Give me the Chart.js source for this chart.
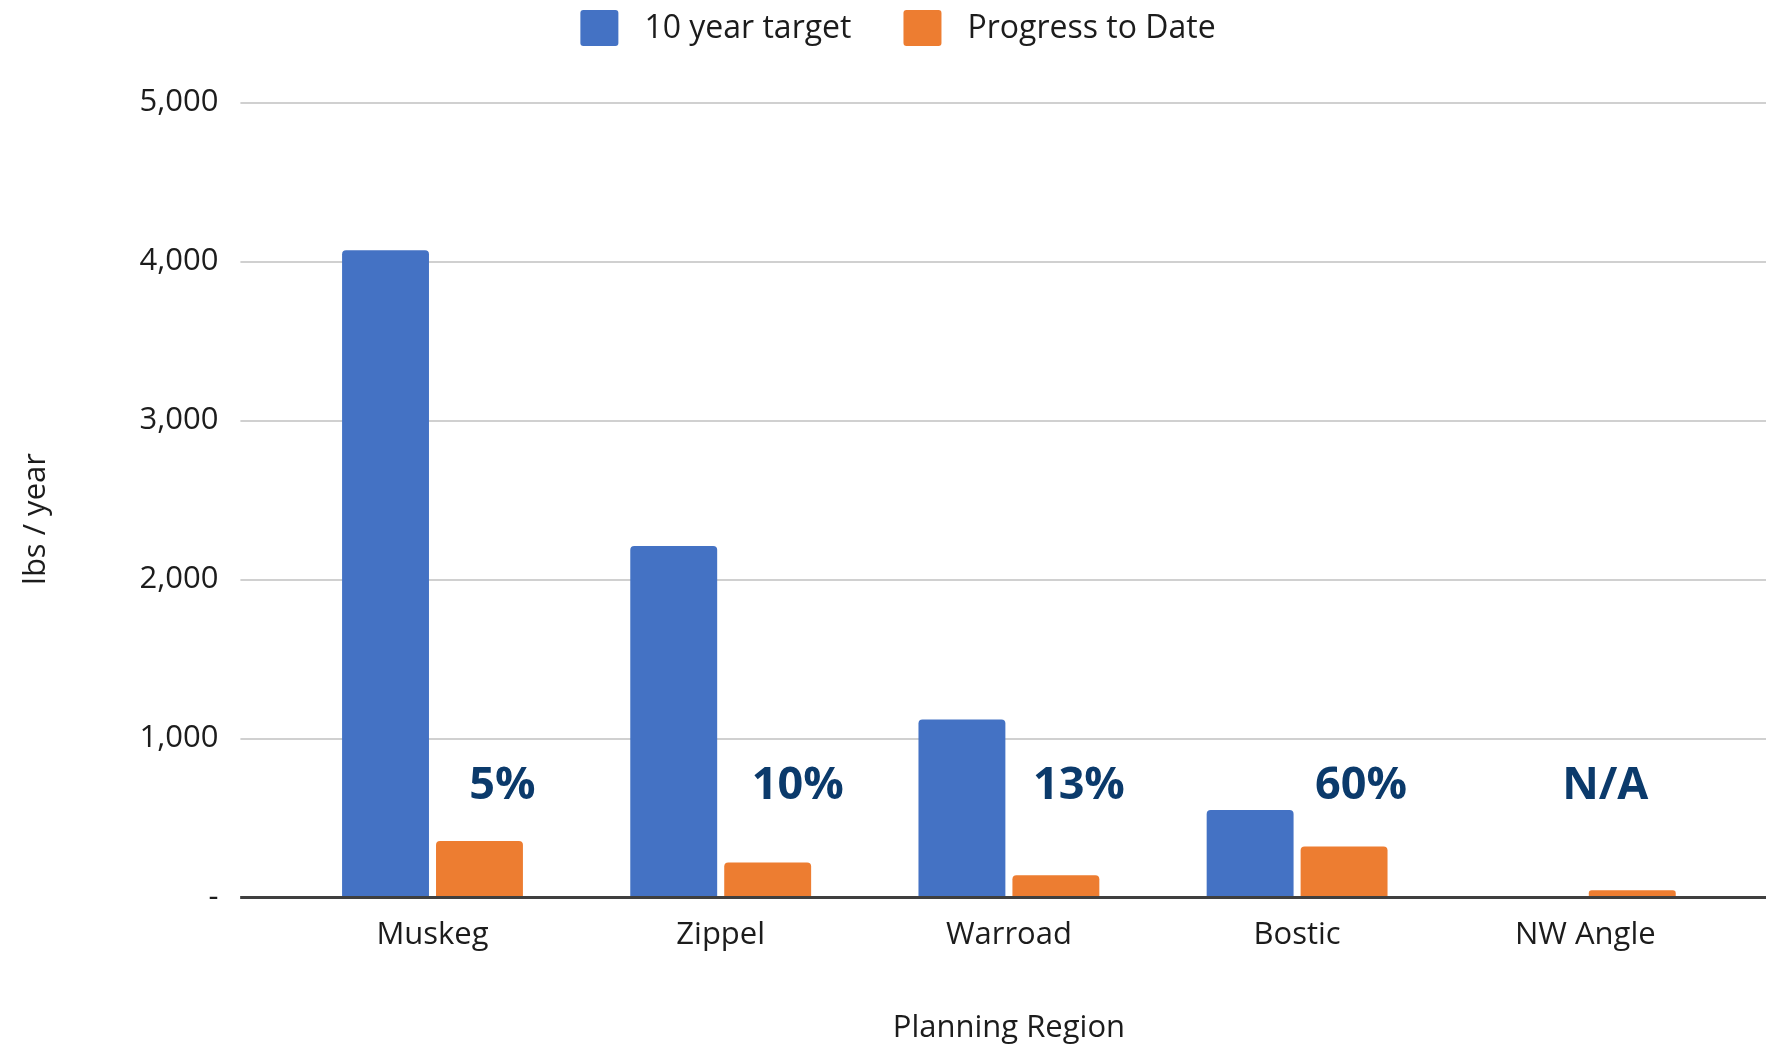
<!DOCTYPE html>
<html>
<head>
<meta charset="utf-8">
<title>Planning Region – 10 year target vs progress</title>
<script src="https://cdn.jsdelivr.net/npm/chart.js@4.4.1/dist/chart.umd.min.js"></script>
<style>
  html, body { margin: 0; padding: 0; background: #fff; overflow: hidden; }
</style>
</head>
<body>
<canvas id="chart" width="1766" height="1045"></canvas>
<script>
// Planning regions along the x axis
const regions = ['Muskeg', 'Zippel', 'Warroad', 'Bostic', 'NW Angle'];
// lbs / year
const tenYearTarget = [4070, 2210, 1120, 550, null];
const progressToDate = [355, 220, 140, 320, 45];
// share of the target reached so far, printed over each region
const progressNotes = ['5%', '10%', '13%', '60%', 'N/A'];
const yTicks = [0, 1000, 2000, 3000, 4000, 5000];

// drawing constants
const FONT = "'Open Sans', 'Noto Sans', sans-serif";
const TEXT = '#1c1c1c';
const GRID = '#d0d0d0';
const AXIS = '#3f3f3f';
const NOTE = '#0b3a6b';
const TICK_LEN = 48;
const noteShift = [70, 77, 70, 64, 20];   // px right of each category centre
const noteLevel = 620;                    // y value of the note baseline
const keyCenterX = 898;

Chart.defaults.font.family = FONT;
Chart.defaults.font.size = 31;
Chart.defaults.color = TEXT;

// same snapping Chart.js uses for its own grid lines
function snap(px, width) {
    const half = width / 2;
    return Math.round(px - half) + half;
}

// legend row, y-axis title, the % notes and the baseline are drawn here
const decorations = {
    id: 'decorations',
    afterDatasetsDraw(chart) {
        const ctx = chart.ctx;
        const area = chart.chartArea;
        const y = chart.scales.y;
        const x = chart.scales.x;
        ctx.save();

        // gridlines keep running to the right edge of the canvas
        y.ticks.forEach(t => {
            const w = t.value === 0 ? 3 : 2;
            const py = snap(y.getPixelForValue(t.value), w);
            ctx.strokeStyle = t.value === 0 ? AXIS : GRID;
            ctx.lineWidth = w;
            ctx.beginPath();
            ctx.moveTo(t.value === 0 ? area.left - TICK_LEN : area.right - 1, py);
            ctx.lineTo(chart.width, py);
            ctx.stroke();
        });

        // percentage of target reached
        ctx.fillStyle = NOTE;
        ctx.font = `bold 45px ${FONT}`;
        ctx.textAlign = 'center';
        ctx.textBaseline = 'alphabetic';
        progressNotes.forEach((txt, i) => {
            ctx.fillText(txt, x.getPixelForValue(i) + noteShift[i], y.getPixelForValue(noteLevel));
        });
        ctx.restore();
    },
    afterDraw(chart) {
        const ctx = chart.ctx;
        ctx.save();
        ctx.font = `32px ${FONT}`;
        ctx.fillStyle = TEXT;
        ctx.textBaseline = 'alphabetic';
        ctx.textAlign = 'left';

        // legend
        const boxW = 38, boxH = 36, toText = 26, toNext = 52;
        const items = chart.data.datasets.map(ds => ({
            text: ds.label,
            color: ds.backgroundColor,
            w: ctx.measureText(ds.label).width
        }));
        const total = items.reduce((s, it) => s + boxW + toText + it.w, 0) + toNext * (items.length - 1);
        let cx = keyCenterX - total / 2;
        items.forEach(it => {
            ctx.fillStyle = it.color;
            ctx.beginPath();
            ctx.roundRect(cx, 10, boxW, boxH, 3);
            ctx.fill();
            ctx.fillStyle = TEXT;
            ctx.fillText(it.text, cx + boxW + toText, 38);
            cx += boxW + toText + it.w + toNext;
        });

        // y-axis title
        ctx.font = `31px ${FONT}`;
        ctx.translate(45, 519);
        ctx.rotate(-Math.PI / 2);
        ctx.textAlign = 'center';
        ctx.fillText('lbs / year', 0, 0);
        ctx.restore();
    }
};

new Chart(document.getElementById('chart'), {
    type: 'bar',
    data: {
        labels: regions,
        datasets: [
            {
                label: '10 year target',
                data: tenYearTarget,
                backgroundColor: '#4472c4'
            },
            {
                label: 'Progress to Date',
                data: progressToDate,
                backgroundColor: '#ed7d31'
            }
        ]
    },
    options: {
        responsive: false,
        devicePixelRatio: 1,
        animation: false,
        layout: { padding: { top: 102.5, right: 36.6, left: 0, bottom: 0 } },
        datasets: {
            bar: {
                barPercentage: 0.925,
                categoryPercentage: 0.652,
                borderRadius: 4
            }
        },
        plugins: {
            legend: { display: false },
            tooltip: { enabled: false }
        },
        scales: {
            x: {
                grid: { display: false, drawTicks: false },
                border: { display: false },
                ticks: { padding: 19.5, color: TEXT },
                title: {
                    display: true,
                    text: 'Planning Region',
                    color: TEXT,
                    font: { size: 31, lineHeight: 1 },
                    padding: { top: 0, bottom: 1 }
                },
                afterFit: s => { s.height = 147.5; }
            },
            y: {
                min: 0,
                max: 5000,
                afterBuildTicks: s => { s.ticks = yTicks.map(v => ({ value: v })); },
                grid: {
                    color: c => (c.tick && c.tick.value === 0 ? AXIS : GRID),
                    lineWidth: c => (c.tick && c.tick.value === 0 ? 3 : 2),
                    tickLength: TICK_LEN
                },
                border: { display: false },
                ticks: {
                    padding: 22,
                    color: TEXT,
                    callback: v => (v === 0 ? '-' : v.toLocaleString('en-US'))
                },
                afterFit: s => { s.width = 288.4; }
            }
        }
    },
    plugins: [decorations]
});
</script>
</body>
</html>
